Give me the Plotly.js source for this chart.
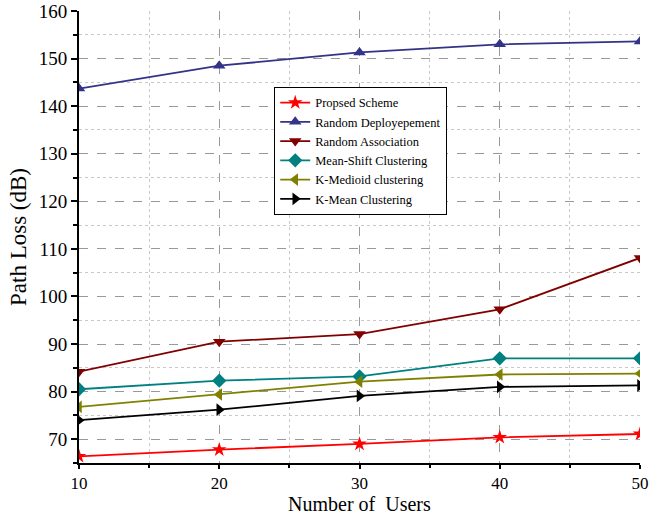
<!DOCTYPE html>
<html>
<head>
<meta charset="utf-8">
<script src="https://cdn.plot.ly/plotly-3.0.1.min.js"></script>
<style>html,body{margin:0;padding:0;background:#fff;}#chart{width:650px;height:518px;}</style>
</head>
<body>
<div id="chart"></div>
<script>
const users = [10, 20, 30, 40, 50];
const proposedScheme = [66.4, 67.8, 69.0, 70.4, 71.1];
const randomDeployment = [143.7, 148.5, 151.3, 153.0, 153.6];
const randomAssociation = [84.2, 90.5, 92.1, 97.3, 108.1];
const meanShift = [80.5, 82.3, 83.2, 87.0, 87.0];
const kMedioid = [76.8, 79.4, 82.1, 83.6, 83.8];
const kMean = [74.0, 76.2, 79.1, 81.0, 81.3];
const xTitle = "Number of  Users";
const yTitle = "Path Loss (dB)";

const seriesNames = ["Propsed Scheme", "Random Deployepement", "Random Association",
  "Mean-Shift Clustering", "K-Medioid clustering", "K-Mean Clustering"];
const seriesData = [proposedScheme, randomDeployment, randomAssociation, meanShift, kMedioid, kMean];
const colors = ["#FF0000", "#333388", "#800000", "#008080", "#808000", "#000000"];
const symbols = ["star", "triangle-up", "triangle-down", "diamond", "triangle-left", "triangle-right"];

const traces = seriesNames.map((n, i) => ({
  x: users, y: seriesData[i], name: n, type: "scatter", mode: "lines+markers",
  line: {color: colors[i], width: 1.8},
  marker: {symbol: symbols[i], size: 11, color: colors[i]}
}));

const font = "Liberation Serif";
const layout = {
  width: 650, height: 518,
  margin: {l: 79, r: 10, t: 11, b: 55},
  paper_bgcolor: "#fff", plot_bgcolor: "#fff",
  font: {family: font, color: "#000", size: 18},
  showlegend: true,
  legend: {x: 0.348, y: 0.832, xanchor: "left", yanchor: "top",
    bgcolor: "#fff", bordercolor: "#000", borderwidth: 1,
    font: {family: font, size: 12.5, color: "#000"}, tracegroupgap: 0},
  annotations: [{text: xTitle, xref: "paper", yref: "paper", x: 0.5, y: -0.118,
    xanchor: "center", yanchor: "bottom", showarrow: false, borderpad: 0,
    font: {family: font, size: 20, color: "#000"}}],
  xaxis: {
    range: [10, 50], tickmode: "linear", tick0: 10, dtick: 10,
    showline: true, linecolor: "#000", linewidth: 2, ticks: "outside", ticklen: 4, tickwidth: 2, tickcolor: "#000",
    showgrid: true, gridcolor: "#999", griddash: "dash", gridwidth: 1, zeroline: false,
    minor: {dtick: 5, tick0: 10, ticks: "outside", ticklen: 3, tickwidth: 2, tickcolor: "#000", showgrid: true, gridcolor: "#c8c8c8", griddash: "dot", gridwidth: 1},
    tickfont: {family: font, size: 17}
  },
  yaxis: {
    range: [65, 160], tickmode: "linear", tick0: 70, dtick: 10,
    showline: true, linecolor: "#000", linewidth: 2, ticks: "outside", ticklen: 6, tickwidth: 2, tickcolor: "#000",
    showgrid: true, gridcolor: "#999", griddash: "dash", gridwidth: 1, zeroline: false,
    minor: {dtick: 5, tick0: 65, ticks: "outside", ticklen: 4, tickwidth: 2, tickcolor: "#000", showgrid: true, gridcolor: "#c8c8c8", griddash: "dot", gridwidth: 1},
    tickfont: {family: font, size: 19},
    title: {text: yTitle, font: {family: font, size: 23}, standoff: 6}
  }
};
Plotly.newPlot("chart", traces, layout, {displayModeBar: false, staticPlot: true});
</script>
</body>
</html>
